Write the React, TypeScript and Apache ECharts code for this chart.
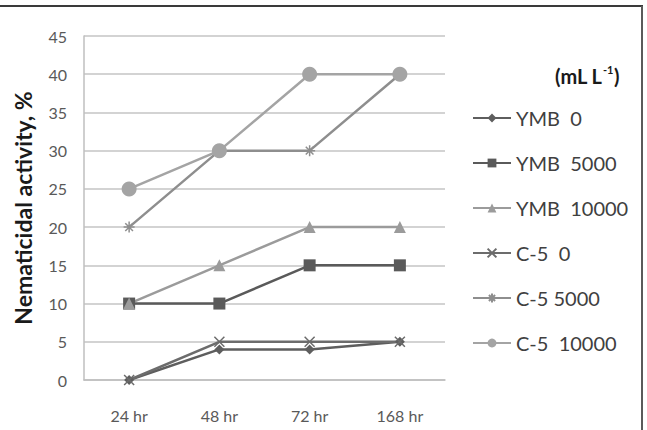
import React, { useEffect, useRef } from "react";
import * as echarts from "echarts";

const categories = ["24 hr", "48 hr", "72 hr", "168 hr"];
const seriesNames = ["YMB  0", "YMB  5000", "YMB  10000", "C-5  0", "C-5 5000", "C-5  10000"];
const ymb0 = [0, 4, 4, 5];
const ymb5000 = [10, 10, 15, 15];
const ymb10000 = [10, 15, 20, 20];
const c5_0 = [0, 5, 5, 5];
const c5_5000 = [20, 30, 30, 40];
const c5_10000 = [25, 30, 40, 40];
const yTicks = [0, 5, 10, 15, 20, 25, 30, 35, 40, 45];

const FONT = "Lato, 'Open Sans', sans-serif";
const X_SYMBOL = "path://M0,0L10,10M10,0L0,10";
const STAR_SYMBOL = "path://M5,0L5,10M0,5L10,5M1.5,1.5L8.5,8.5M8.5,1.5L1.5,8.5";

export default function App() {
  const ref = useRef<HTMLDivElement>(null);
  useEffect(() => {
    document.body.style.margin = "0";
    if (!ref.current) return;
    const chart = echarts.init(ref.current, undefined, { renderer: "svg" });
    const mk = (name: string, data: number[], color: string, symbol: string, size: number, stroke = false) => ({
      name,
      type: "line",
      data,
      symbol,
      symbolSize: size,
      showSymbol: true,
      lineStyle: { color, width: 2.5 },
      itemStyle: stroke
        ? { color: color, borderColor: color, borderWidth: 1.5 }
        : { color, borderWidth: 0 },
      emphasis: { disabled: true },
    });
    const series = [
      mk(seriesNames[0], ymb0, "#5e5e5e", "diamond", 10),
      mk(seriesNames[1], ymb5000, "#5a5a5a", "rect", 12),
      mk(seriesNames[2], ymb10000, "#9b9b9b", "triangle", 12),
      mk(seriesNames[3], c5_0, "#6c6c6c", X_SYMBOL, 10, true),
      mk(seriesNames[4], c5_5000, "#8e8e8e", STAR_SYMBOL, 11, true),
      mk(seriesNames[5], c5_10000, "#a4a4a4", "circle", 15),
    ];
    chart.setOption({
      animation: false,
      grid: { left: 84, right: 202, top: 36, bottom: 50, containLabel: false },
      legend: {
        orient: "vertical",
        left: 472,
        top: 108,
        padding: 0,
        itemWidth: 38,
        itemHeight: 11,
        itemGap: 25,
        selectedMode: false,
        data: seriesNames,
        textStyle: { fontFamily: FONT, fontSize: 20, lineHeight: 20, color: "#404040" },
      },
      xAxis: {
        type: "category",
        data: categories,
        boundaryGap: true,
        axisLine: { lineStyle: { color: "#bfbfbf", width: 1.5 } },
        axisTick: { show: false },
        axisLabel: { margin: 27, fontFamily: FONT, fontSize: 16, color: "#595959" },
      },
      yAxis: {
        type: "value",
        min: yTicks[0],
        max: yTicks[yTicks.length - 1],
        interval: 5,
        name: "Nematicidal activity, %",
        nameLocation: "middle",
        nameGap: 50,
        nameTextStyle: { fontFamily: FONT, fontSize: 23, fontWeight: "bold", color: "#1a1a1a" },
        axisLine: { show: true, lineStyle: { color: "#bfbfbf", width: 1.5 } },
        axisTick: { show: false },
        splitLine: { lineStyle: { color: "#c4c4c4", width: 1.5 } },
        axisLabel: { margin: 17, fontFamily: FONT, fontSize: 16, color: "#595959" },
      },
      graphic: [
        { type: "line", shape: { x1: 0, y1: 6, x2: 643, y2: 6 }, style: { stroke: "#3a3a3a", lineWidth: 2 } },
        { type: "line", shape: { x1: 642, y1: 6, x2: 642, y2: 430 }, style: { stroke: "#5a5a5a", lineWidth: 2 } },
        { type: "text", x: 555, y: 66, style: { text: "(mL L", fontFamily: FONT, fontSize: 20, fontWeight: "bold", fill: "#1a1a1a" } },
        { type: "text", x: 603, y: 64, style: { text: "-1", fontFamily: FONT, fontSize: 11, fontWeight: "bold", fill: "#1a1a1a" } },
        { type: "text", x: 614, y: 66, style: { text: ")", fontFamily: FONT, fontSize: 20, fontWeight: "bold", fill: "#1a1a1a" } },
      ],
      series,
    });
    return () => chart.dispose();
  }, []);
  return <div ref={ref} style={{ width: 647, height: 430 }} />;
}
